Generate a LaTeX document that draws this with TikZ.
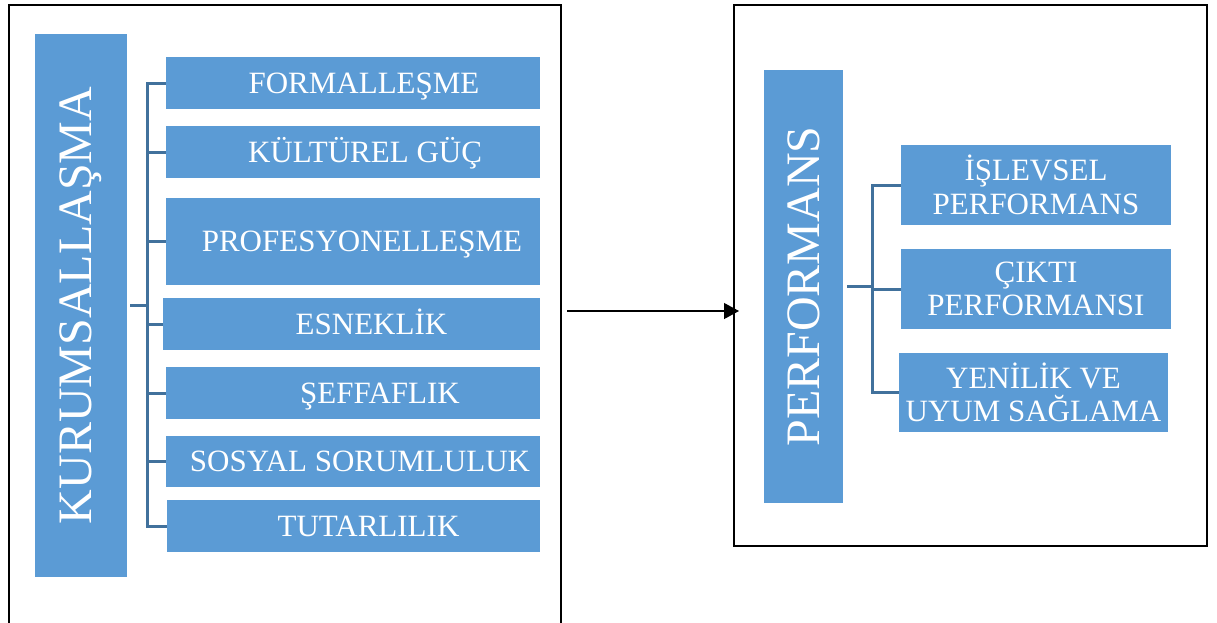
\documentclass[tikz,border=0pt]{standalone}
\usepackage{fontspec}
\setmainfont{Liberation Serif}
\usepackage{graphicx}
\usetikzlibrary{arrows.meta,positioning}
\definecolor{boxblue}{HTML}{5B9BD5}
\definecolor{linkblue}{HTML}{41719C}
\tikzset{
    panel/.style={draw=black, line width=1.5pt, anchor=north west,
    inner sep=0pt, outer sep=0pt},
    parent/.style={fill=boxblue, text=white, inner sep=0pt, outer sep=0pt,
    font=\fontsize{48}{52}\selectfont},
    item/.style={fill=boxblue, text=white, anchor=north west, align=center,
    inner sep=0pt, outer sep=0pt, font=\fontsize{31}{33.5}\selectfont},
    oneline/.style={text height=24pt, text depth=4pt},
    link/.style={draw=linkblue, line width=3pt},
}

\begin{document}
\begin{tikzpicture}[x=1pt, y=-1pt]
            \useasboundingbox (0,0) rectangle (1217,622);
            \clip (0,0) rectangle (1217,622);
            % --- frames ---
            \node[panel, minimum width=552, minimum height=660] (lframe) at (9,5) {};
            \node[panel, minimum width=473, minimum height=541] (rframe) at (734,5) {};
            % --- left group ---
            \node[parent, minimum width=92, minimum height=543] (kurum) at (81,305.5) {\rotatebox{90}{KURUMSALLAŞMA}};
            \node[item, oneline, minimum width=374, minimum height=52] (k1) at (166,57) {\hspace*{22pt}FORMALLEŞME};
            \node[item, oneline, minimum width=374, minimum height=52] (k2) at (166,126) {\hspace*{24pt}KÜLTÜREL GÜÇ};
            \node[item, oneline, minimum width=374, minimum height=87] (k3) at (166,198) {\hspace*{18pt}PROFESYONELLEŞME};
            \node[item, oneline, minimum width=377, minimum height=52] (k4) at (163,298) {\hspace*{40pt}ESNEKLİK};
            \node[item, oneline, minimum width=374, minimum height=52] (k5) at (166,367) {\hspace*{54pt}ŞEFFAFLIK};
            \node[item, oneline, minimum width=374, minimum height=51] (k6) at (166,436) {\hspace*{14pt}SOSYAL SORUMLULUK};
            \node[item, oneline, minimum width=373, minimum height=52] (k7) at (167,500) {\hspace*{30pt}TUTARLILIK};
            \coordinate (kbus) at (147,0);
            \foreach \i in {1,...,7}
                \draw[link] ([xshift=3]kurum.east) -| (kbus |- k\i.west) -- (k\i.west);
            % --- right group ---
            \node[parent, minimum width=79, minimum height=433] (perf) at (803.5,286.5) {\rotatebox{90}{PERFORMANS}};
            \node[item, minimum width=270, minimum height=80] (p1) at (901,145) {İŞLEVSEL\\PERFORMANS};
            \node[item, minimum width=270, minimum height=80] (p2) at (901,249) {ÇIKTI\\PERFORMANSI};
            \node[item, minimum width=269, minimum height=79] (p3) at (899,353) {YENİLİK VE\\UYUM SAĞLAMA};
            \coordinate (pbus) at (872,0);
            \foreach \i in {1,2,3}
                \draw[link] ([xshift=4]perf.east) -| (pbus |- p\i.west) -- (p\i.west);
            % --- arrow between the frames ---
            \coordinate (ay) at (0,311);
            \draw[line width=1.2pt, -{Triangle[length=15pt, width=16pt]}]
                ([xshift=6]lframe.east |- ay) -- ([xshift=5]rframe.west |- ay);
        \end{tikzpicture}
\end{document}
